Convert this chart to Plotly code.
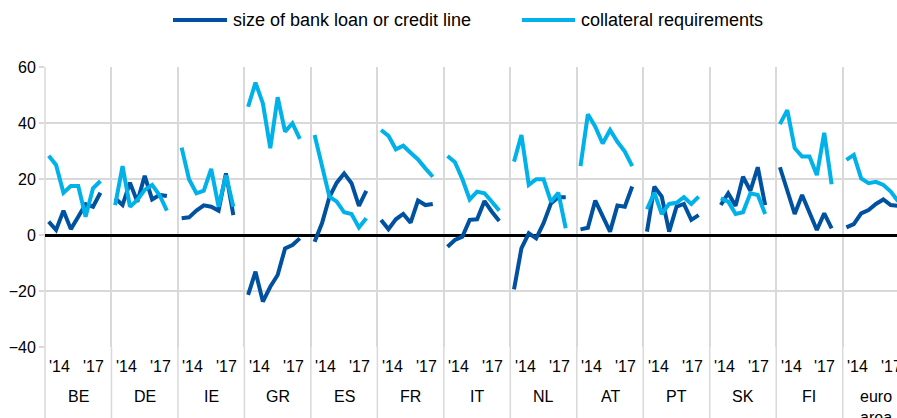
import plotly.graph_objects as go

# Net percentage of SMEs reporting changes in loan terms, by country, 2014-2017 (half-yearly)
countries = ["BE", "DE", "IE", "GR", "ES", "FR", "IT", "NL", "AT", "PT", "SK", "FI", "euro<br>area"]
period_labels = ["'14", "'17"]

loan_size = [
    [4.8, 1.8, 8.7, 2.1, 6.5, 11.0, 10.1, 15.1],          # BE
    [13.1, 10.7, 18.7, 11.9, 21.1, 12.7, 14.3, 13.9],     # DE
    [6.0, 6.3, 8.7, 10.6, 10.1, 8.7, 22.0, 7.1],          # IE
    [-21.4, -13.1, -23.8, -18.5, -14.3, -4.8, -3.6, -1.2],# GR
    [-2.4, 4.2, 13.5, 18.7, 22.0, 18.5, 10.4, 15.8],      # ES
    [5.4, 2.1, 5.6, 7.5, 4.4, 12.3, 10.7, 11.1],          # FR
    [-4.2, -1.8, -0.6, 5.4, 5.6, 12.1, 8.3, 5.0],         # IT
    [-19.4, -4.8, 0.6, -1.2, 4.2, 11.3, 13.5, 13.5],      # NL
    [2.0, 2.6, 12.3, 7.1, 1.2, 10.5, 10.1, 17.3],         # AT
    [1.2, 17.3, 13.7, 1.2, 10.1, 11.1, 5.4, 7.1],         # PT
    [None, 10.7, 14.9, 10.4, 20.8, 15.8, 24.2, 10.7],     # SK
    [24.2, 16.1, 7.5, 14.3, 8.0, 1.8, 7.7, 2.4],          # FI
    [2.7, 3.9, 7.7, 8.9, 11.1, 12.7, 10.7, 10.4],         # euro area
]

collateral = [
    [28.3, 25.0, 15.1, 17.5, 17.5, 6.5, 16.7, 19.3],      # BE
    [10.7, 24.6, 10.1, 12.5, 16.1, 17.9, 14.3, 8.7],      # DE
    [31.2, 19.9, 14.9, 15.8, 23.6, 10.1, 21.4, 10.1],     # IE
    [45.8, 54.4, 47.0, 31.0, 49.2, 36.9, 39.9, 34.3],     # GR
    [35.7, 24.6, 13.7, 11.9, 8.1, 7.5, 2.7, 6.0],         # ES
    [37.5, 35.4, 30.6, 31.9, 29.4, 27.0, 23.8, 20.8],     # FR
    [28.2, 26.0, 20.0, 12.7, 15.5, 14.9, 11.9, 8.7],      # IT
    [26.2, 35.7, 17.9, 19.9, 19.9, 11.9, 15.1, 2.4],      # NL
    [24.6, 43.1, 38.7, 32.7, 37.5, 33.3, 29.8, 24.6],     # AT
    [9.2, 15.1, 7.5, 11.1, 11.5, 13.5, 11.1, 13.7],       # PT
    [None, 13.1, 11.9, 7.5, 8.1, 14.9, 14.3, 7.5],        # SK
    [39.6, 44.6, 31.0, 28.0, 28.0, 21.4, 36.5, 18.1],     # FI
    [26.8, 28.6, 20.2, 18.5, 19.0, 17.9, 15.5, 12.0],     # euro area
]

series_names = ["size of bank loan or credit line", "collateral requirements"]
series_colors = ["#0052A0", "#00B1EA"]

N_PER = 8          # half-year observations per country
SLOTS = N_PER + 1  # one empty slot separates the countries
FONT = "Liberation Sans, Arial, sans-serif"


def flatten(groups):
    xs, ys = [], []
    for g, vals in enumerate(groups):
        for i, v in enumerate(vals):
            xs.append(g * SLOTS + i)
            ys.append(v)
        xs.append(None)
        ys.append(None)
    return xs, ys


fig = go.Figure()
for name, color, data in zip(series_names, series_colors, [loan_size, collateral]):
    xs, ys = flatten(data)
    fig.add_trace(go.Scatter(
        x=xs, y=ys, mode="lines", name=name,
        line=dict(color=color, width=4),
        connectgaps=False, showlegend=False, hoverinfo="skip",
    ))

n_groups = len(countries)
bounds = [g * SLOTS - 0.5 for g in range(n_groups)]

W, H = 897, 418
ML, MT, MB = 45, 67, 71
plot_w = W - ML
slot_px = (842.7 - 45) / (12 * SLOTS)
x_end = -0.5 + plot_w / slot_px

fig.update_xaxes(
    range=[-0.5, x_end], tickvals=bounds[1:], showticklabels=False,
    showgrid=True, gridcolor="#d9d9d9", gridwidth=1.5,
    zeroline=False, showline=False, ticks="",
)
fig.update_yaxes(
    range=[-40, 60], tickvals=[-40, -20, 0, 20, 40, 60],
    showgrid=True, gridcolor="#d9d9d9", gridwidth=1.5,
    zeroline=True, zerolinecolor="black", zerolinewidth=3,
    ticks="outside", ticklen=5, tickcolor="#d9d9d9", tickwidth=1.5,
    tickfont=dict(family=FONT, size=16, color="black"),
    showline=False,
)

shapes = []
below = -MB / (H - MT - MB)
# left border of the first country block
shapes.append(dict(type="line", xref="paper", yref="paper", x0=0, x1=0, y0=1, y1=below,
                   line=dict(color="#d9d9d9", width=1.5), layer="below"))
# separators continue down through the category labels
for b in bounds[1:]:
    shapes.append(dict(type="line", xref="x", yref="paper", x0=b, x1=b, y0=0, y1=below,
                       line=dict(color="#d9d9d9", width=1.5), layer="below"))

annotations = []
ph = H - MT - MB
def py(px):
    return (H - MB - px) / ph

for g, c in enumerate(countries):
    base = g * SLOTS
    annotations.append(dict(x=base + 1.5, y=py(366), xref="x", yref="paper", text=period_labels[0],
                            showarrow=False, xanchor="center", yanchor="middle",
                            font=dict(family=FONT, size=16, color="black")))
    annotations.append(dict(x=base + 6.1, y=py(366), xref="x", yref="paper", text=period_labels[1],
                            showarrow=False, xanchor="center", yanchor="middle",
                            font=dict(family=FONT, size=16, color="black")))
    annotations.append(dict(x=base + 4, y=py(386), xref="x", yref="paper", text=c,
                            showarrow=False, xanchor="center", yanchor="top",
                            font=dict(family=FONT, size=16, color="black")))

# legend drawn as line samples with labels
def pxx(px):
    return (px - ML) / plot_w

legend_items = [(173, 227, 231), (522, 575, 579)]
for (a, b, t), name, color in zip(legend_items, series_names, series_colors):
    shapes.append(dict(type="line", xref="paper", yref="paper", x0=pxx(a), x1=pxx(b),
                       y0=py(20), y1=py(20), line=dict(color=color, width=4)))
    annotations.append(dict(x=pxx(t), y=py(20), xref="paper", yref="paper", text=name,
                            showarrow=False, xanchor="left", yanchor="middle",
                            font=dict(family=FONT, size=18, color="black")))

fig.update_layout(
    width=W, height=H,
    margin=dict(l=ML, r=0, t=MT, b=MB, pad=0),
    paper_bgcolor="white", plot_bgcolor="white",
    shapes=shapes, annotations=annotations,
    showlegend=False,
)

fig.write_html("out.html")
